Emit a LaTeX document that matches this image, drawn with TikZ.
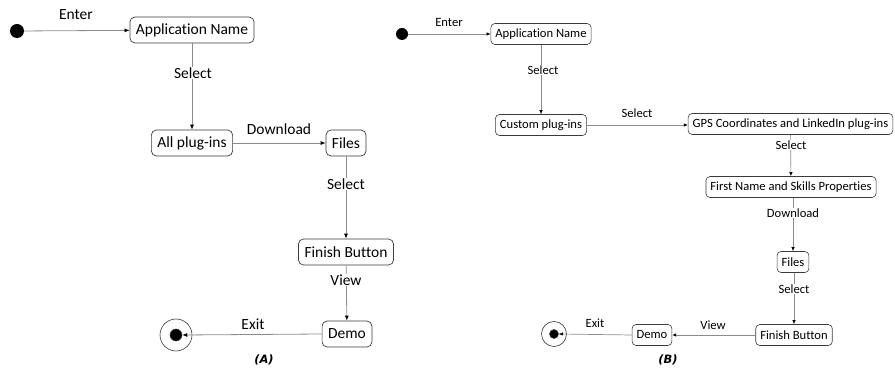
\documentclass[tikz,border=0pt]{standalone}
\usepackage{fontspec}
\setmainfont{Carlito}[Ligatures=NoCommon]
\newfontfamily\capfont{DejaVu Sans}
\usetikzlibrary{arrows.meta}
\definecolor{linegray}{HTML}{8C8C8C}
\definecolor{boxgray}{HTML}{3A3A3A}
\tikzset{
  x=1pt, y=-1pt,
  stA/.style={draw=boxgray, line width=0.7pt, rounded corners=5pt, fill=white,
    font=\fontsize{15.5}{18}\selectfont, inner xsep=6pt, inner ysep=0pt, minimum height=26pt},
  stB/.style={draw=boxgray, line width=0.6pt, rounded corners=4pt, fill=white,
    font=\fontsize{12.6}{15}\selectfont, inner xsep=4.5pt, inner ysep=0pt, minimum height=21pt},
  lbA/.style={font=\fontsize{15.5}{18}\selectfont, inner sep=1pt, fill=white},
  lbB/.style={font=\fontsize{12.6}{15}\selectfont, inner sep=1pt, fill=white},
  trA/.style={draw=linegray, line width=0.8pt, -{Latex[length=5pt,width=4pt,color=black]}},
  trB/.style={draw=linegray, line width=0.7pt, -{Latex[length=4pt,width=3.5pt,color=black]}},
  initdot/.style={circle, fill=black, inner sep=0pt},
  enddot/.style={circle, fill=black, draw=boxgray, line width=0.5pt, inner sep=0pt},
  endring/.style={circle, draw=boxgray, line width=0.6pt, fill=white, inner sep=0pt},
  capt/.style={font=\capfont\fontsize{11.5}{13}\bfseries\itshape\selectfont}
}
\begin{document}
\begin{tikzpicture}
\useasboundingbox (0,0) rectangle (895,371);
% ---------- Panel A ----------
\node[initdot, minimum size=14pt] (sA) at (17,31) {};
\node[stA] (appA) at (192,30) {Application Name};
\node[stA] (allA) at (192,143) {All plug-ins};
\node[stA] (filesA) at (346,143) {Files};
\node[stA] (finA) at (346,252) {Finish Button};
\node[stA] (demoA) at (347,334) {Demo};
\node[endring, minimum size=32pt] (eoA) at (176,335) {};
\node[enddot, minimum size=12pt] (eA) at (176,335) {};
\draw[trA] (sA) -- (appA);
\draw[trA] (appA) -- (allA);
\draw[trA] (allA) -- (filesA);
\draw[trA] (filesA) -- (finA);
\draw[trA] (finA) -- (demoA);
\draw[trA] (demoA.west) -- (eA.east);
\node[lbA, fill=none] (lEnterA) at (76,15) {Enter};
\node[lbA] (lSel1A) at (193,73) {Select};
\node[lbA, fill=none] (lDownA) at (279,129) {Download};
\node[lbA] (lSel2A) at (346,184) {Select};
\node[lbA] (lViewA) at (346,280) {View};
\node[lbA, fill=none] (lExitA) at (253,324) {Exit};
\node[capt] (cA) at (264,360) {(A)};
% ---------- Panel B ----------
\node[initdot, minimum size=12pt] (sB) at (402,34) {};
\node[stB] (appB) at (541,34) {Application Name};
\node[stB] (custB) at (541,125) {Custom plug-ins};
\node[stB] (gpsB) at (790.5,124) {GPS Coordinates and LinkedIn plug-ins};
\node[stB] (firstB) at (791,187) {First Name and Skills Properties};
\node[stB] (filesB) at (793,262) {Files};
\node[stB] (finB) at (794,335) {Finish Button};
\node[stB] (demoB) at (652,335) {Demo};
\node[endring, minimum size=25pt] (eoB) at (554,334) {};
\node[enddot, minimum size=9pt] (eB) at (554,334) {};
\draw[trB] (sB) -- (appB);
\draw[trB] (appB) -- (custB);
\draw[trB] (custB) -- (gpsB.west |- custB);
\draw[trB] (gpsB) -- (firstB);
\draw[trB] (firstB.south -| filesB) -- (filesB);
\draw[trB] (filesB.south -| finB) -- (finB);
\draw[trB] (finB) -- (demoB);
\draw[trB] (demoB.west) -- (eB.east);
\node[lbB, fill=none] (lEnterB) at (449,23) {Enter};
\node[lbB] (lSel1B) at (543,70) {Select};
\node[lbB, fill=none] (lSel2B) at (637,113) {Select};
\node[lbB] (lSel3B) at (791,145) {Select};
\node[lbB] (lDownB) at (793,213) {Download};
\node[lbB] (lSel4B) at (794,289) {Select};
\node[lbB, fill=none] (lViewB) at (713,325) {View};
\node[lbB, fill=none] (lExitB) at (595,323) {Exit};
\node[capt] (cB) at (668,360) {(B)};
\end{tikzpicture}
\end{document}
